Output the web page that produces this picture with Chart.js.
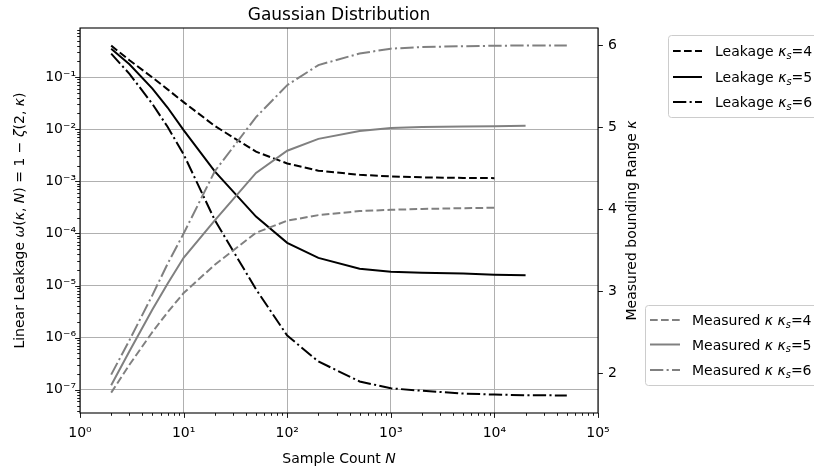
<!DOCTYPE html>
<html><head><meta charset="utf-8">
<script src="https://cdn.jsdelivr.net/npm/chart.js@4/dist/chart.umd.min.js"></script>
<style>html,body{margin:0;padding:0;background:#fff;overflow:hidden}</style>
</head><body>
<canvas id="c" width="814" height="471" style="width:814px;height:471px;display:block"></canvas>
<script>
// ---- data ----
const N = [2,3,5,7,10,20,50,100,200,500,1000,2000,5000,10000,20000,50000];
const leak4 = [0.40,0.21,0.098,0.058,0.033,0.0115,0.0037,0.0022,0.0016,0.00133,0.00124,0.00119,0.00116,0.00115];
const leak5 = [0.35,0.176,0.060,0.026,0.0096,0.00155,0.00021,0.000066,0.000034,0.000021,0.0000185,0.0000177,0.000017,0.0000162,0.0000158];
const leak6 = [0.28,0.115,0.0304,0.0111,0.0033,0.00018,0.0000085,0.0000011,3.5e-7,1.45e-7,1.07e-7,9.6e-8,8.5e-8,8.1e-8,7.9e-8,7.8e-8];
const meas4 = [1.76,2.10,2.50,2.74,2.975,3.32,3.71,3.857,3.925,3.974,3.99,4.0,4.01,4.015];
const meas5 = [1.85,2.264,2.775,3.089,3.405,3.86,4.44,4.71,4.855,4.95,4.987,5.0,5.005,5.01,5.015];
const meas6 = [1.98,2.40,2.95,3.33,3.70,4.46,5.12,5.51,5.755,5.896,5.955,5.975,5.985,5.99,5.995,5.995];
const ksValues = ['4','5','6'];
const xTicks = [1,10,100,1000,10000,100000];
const leftTicks = [1e-7,1e-6,1e-5,1e-4,1e-3,1e-2,1e-1];
const rightTicks = [2,3,4,5,6];
const titleText = 'Gaussian Distribution';

// ---- helpers ----
const FAM = '"DejaVu Sans"';
const DASH = [7.7,3.3];
const DASHDOT = [13.3,3.3,2.1,3.3];
const styles = [DASH, [], DASHDOT];
const GRAY = '#808080';
const pts = arr => arr.map((y,i)=>({x:N[i], y}));
const isMajor = v => Math.abs(Math.log10(v) - Math.round(Math.log10(v))) < 1e-9;
const SUP = {'0':'⁰','1':'¹','2':'²','3':'³','4':'⁴','5':'⁵','6':'⁶','7':'⁷','8':'⁸','9':'⁹','-':'⁻'};
const pow10Label = v => '10' + String(Math.round(Math.log10(v))).split('').map(c=>SUP[c]).join('');
function withMinors(lo, hi){
  const out = [];
  const a = Math.floor(Math.log10(lo)), b = Math.ceil(Math.log10(hi));
  for (let e=a; e<=b; e++) for (let m=1; m<10; m++){
    const v = m*Math.pow(10,e);
    if (v>=lo*0.9999 && v<=hi*1.0001) out.push(v);
  }
  return out;
}
const yLmin = Math.pow(10,-7.444), yLmax = Math.pow(10,-0.06);
const xAll = withMinors(xTicks[0], xTicks[xTicks.length-1]);
const yLAll = withMinors(yLmin, yLmax);

function drawRich(ctx, parts, x, y, size, align){
  let w = 0;
  const items = parts.map(([t, st]) => {
    const fs = st === 's' ? size*0.7 : size;
    const font = (st === 'i' || st === 's' ? 'italic ' : '') + fs + 'px ' + FAM;
    ctx.font = font;
    const m = ctx.measureText(t).width;
    w += m;
    return {t, font, w:m, dy: st === 's' ? size*0.2 : 0};
  });
  let cx = align === 'center' ? x - w/2 : (align === 'right' ? x - w : x);
  ctx.textAlign = 'left'; ctx.textBaseline = 'alphabetic';
  items.forEach(it => { ctx.font = it.font; ctx.fillText(it.t, cx, y + it.dy); cx += it.w; });
}

const legendSets = [
  {prefix:[['Leakage ','n']], color:'#000', box:[668.5,35.5,200,82], lx:[673,702], tx:715, ys:[51,77,102]},
  {prefix:[['Measured ','n'],['κ','i'],[' ','n']], color:GRAY, box:[645.5,305.5,220,80], lx:[650,680], tx:692, ys:[320,344.5,370]}
];

const decor = {
  id:'decor',
  afterDraw(chart){
    const ctx = chart.ctx, a = chart.chartArea;
    const sx = chart.scales.x, sl = chart.scales.yL, sr = chart.scales.yR;
    ctx.save();
    // frame
    ctx.strokeStyle = '#000'; ctx.lineWidth = 1.1; ctx.setLineDash([]);
    ctx.strokeRect(a.left, a.top, a.right - a.left, a.bottom - a.top);
    // tick marks
    ctx.beginPath();
    xAll.forEach(v => { const p = Math.round(sx.getPixelForValue(v))+0.5; const L = isMajor(v)?4.9:2.8; ctx.moveTo(p, a.bottom); ctx.lineTo(p, a.bottom+L); });
    yLAll.forEach(v => { const p = Math.round(sl.getPixelForValue(v))+0.5; const L = isMajor(v)?4.9:2.8; ctx.moveTo(a.left, p); ctx.lineTo(a.left-L, p); });
    rightTicks.forEach(v => { const p = Math.round(sr.getPixelForValue(v))+0.5; ctx.moveTo(a.right, p); ctx.lineTo(a.right+4.9, p); });
    ctx.lineWidth = 0.9; ctx.stroke();
    ctx.fillStyle = '#000';
    // title
    ctx.font = '17px ' + FAM; ctx.textAlign = 'center'; ctx.textBaseline = 'alphabetic';
    ctx.fillText(titleText, (a.left+a.right)/2, 20);
    // x title
    drawRich(ctx, [['Sample Count ','n'],['N','i']], (a.left+a.right)/2, 463, 14, 'center');
    // left y title
    ctx.save(); ctx.translate(24, (a.top+a.bottom)/2); ctx.rotate(-Math.PI/2);
    drawRich(ctx, [['Linear Leakage ','n'],['ω','i'],['(','n'],['κ','i'],[', ','n'],['N','i'],[') = 1 − ','n'],['ζ','i'],['(2, ','n'],['κ','i'],[')','n']], 0, 0, 14, 'center');
    ctx.restore();
    // right y title
    ctx.save(); ctx.translate(636, (a.top+a.bottom)/2); ctx.rotate(-Math.PI/2);
    drawRich(ctx, [['Measured bounding Range ','n'],['κ','i']], 0, 0, 14, 'center');
    ctx.restore();
    // legends
    legendSets.forEach(L => {
      const [bx,by,bw,bh] = L.box;
      ctx.beginPath();
      if (ctx.roundRect) ctx.roundRect(bx,by,bw,bh,3); else ctx.rect(bx,by,bw,bh);
      ctx.fillStyle = 'rgba(255,255,255,0.8)'; ctx.fill();
      ctx.strokeStyle = '#cccccc'; ctx.lineWidth = 1; ctx.setLineDash([]); ctx.stroke();
      ksValues.forEach((k,i) => {
        const y = L.ys[i];
        ctx.beginPath(); ctx.strokeStyle = L.color; ctx.lineWidth = 2; ctx.setLineDash(styles[i]);
        ctx.moveTo(L.lx[0], y); ctx.lineTo(L.lx[1], y); ctx.stroke();
        ctx.setLineDash([]);
        ctx.fillStyle = '#000';
        drawRich(ctx, L.prefix.concat([['κ','i'],['s','s'],['='+k,'n']]), L.tx, y+5, 14, 'left');
      });
    });
    ctx.restore();
  }
};

const mk = (label, arr, axis, color, i, order) => ({
  label, data: pts(arr), yAxisID: axis, borderColor: color, backgroundColor: color,
  borderWidth: 2, borderDash: styles[i], pointRadius: 0, tension: 0, fill: false, order
});

new Chart(document.getElementById('c'), {
  type: 'line',
  data: { datasets: [
    mk('Leakage κs=4', leak4, 'yL', '#000', 0, 2),
    mk('Leakage κs=5', leak5, 'yL', '#000', 1, 2),
    mk('Leakage κs=6', leak6, 'yL', '#000', 2, 2),
    mk('Measured κ κs=4', meas4, 'yR', GRAY, 0, 1),
    mk('Measured κ κs=5', meas5, 'yR', GRAY, 1, 1),
    mk('Measured κ κs=6', meas6, 'yR', GRAY, 2, 1)
  ]},
  options: {
    responsive: false, animation: false, devicePixelRatio: 1,
    layout: { padding: { top: 28, left: 0, right: 0, bottom: 0 } },
    plugins: { legend: {display:false}, title: {display:false}, tooltip: {enabled:false} },
    scales: {
      x: {
        type: 'logarithmic', position: 'bottom', min: xTicks[0], max: xTicks[xTicks.length-1],
        afterBuildTicks: s => { s.ticks = xAll.map(v => ({value: v, major: isMajor(v)})); },
        afterFit: s => { s.height = 58; },
        ticks: { autoSkip: false, maxRotation: 0, minRotation: 0, padding: 12, color: '#000',
          font: {family: 'DejaVu Sans', size: 14},
          callback: v => isMajor(v) ? pow10Label(v) : '' },
        grid: { drawTicks: false, lineWidth: 1, color: c => (c.tick && isMajor(c.tick.value)) ? '#b0b0b0' : 'rgba(0,0,0,0)' },
        border: { display: false }
      },
      yL: {
        type: 'logarithmic', position: 'left', min: yLmin, max: yLmax,
        afterBuildTicks: s => { s.ticks = yLAll.map(v => ({value: v, major: isMajor(v)})); },
        afterFit: s => { s.width = 80; },
        ticks: { autoSkip: false, padding: 4, color: '#000', font: {family: 'DejaVu Sans', size: 14},
          callback: v => isMajor(v) ? pow10Label(v) : '' },
        grid: { drawTicks: false, lineWidth: 1, color: c => (c.tick && isMajor(c.tick.value)) ? '#b0b0b0' : 'rgba(0,0,0,0)' },
        border: { display: false }
      },
      yR: {
        type: 'linear', position: 'right', min: 1.512, max: 6.207,
        afterBuildTicks: s => { s.ticks = rightTicks.map(v => ({value: v})); },
        afterFit: s => { s.width = 216; },
        ticks: { autoSkip: false, padding: 10, color: '#000', font: {family: 'DejaVu Sans', size: 14},
          callback: v => String(v) },
        grid: { display: false, drawTicks: false },
        border: { display: false }
      }
    }
  },
  plugins: [decor]
});
</script>
</body></html>
